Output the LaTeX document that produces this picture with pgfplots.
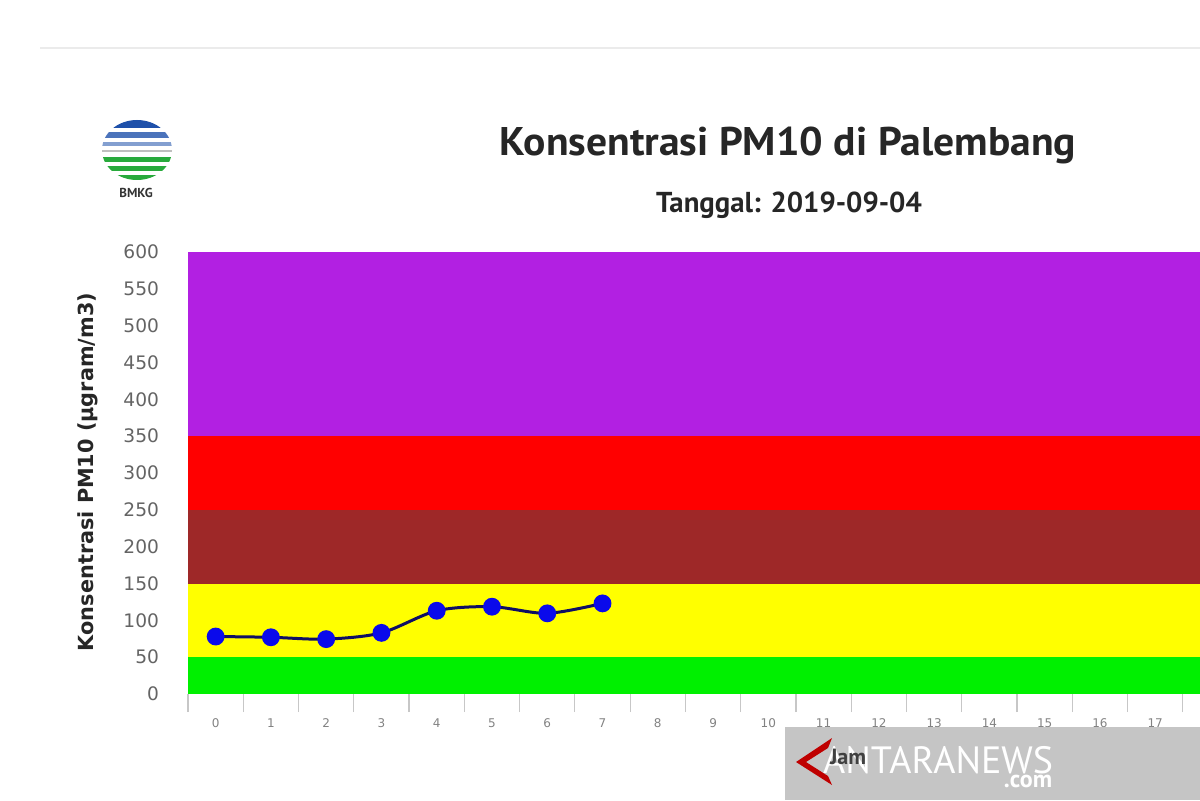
\documentclass[border=0pt]{standalone}
\usepackage{fontspec}
\setmainfont{PT Sans}
\newfontfamily\dejavu{DejaVu Sans}
\usepackage{pgfplots}
\pgfplotsset{compat=1.18}
\definecolor{bpurple}{RGB}{178,32,226}
\definecolor{bred}{RGB}{255,0,0}
\definecolor{bbrown}{RGB}{158,40,40}
\definecolor{byellow}{RGB}{255,255,0}
\definecolor{bgreen}{RGB}{0,240,0}
\definecolor{tickgray}{RGB}{100,100,100}
\definecolor{xtickgray}{RGB}{130,130,130}
\definecolor{linenavy}{RGB}{15,15,100}
\definecolor{markblue}{RGB}{10,10,235}
\definecolor{bmkgblue}{RGB}{30,80,170}
\definecolor{bmkggreen}{RGB}{40,170,60}
\begin{document}
\begin{tikzpicture}[x=0.5pt,y=0.5pt]
\path[use as bounding box] (0,0) rectangle (1200,800);
\draw[black!8, line width=1pt] (40,752) -- (1200,752);
% logo
\begin{scope}
\clip (137,650) ellipse (35 and 30);
\fill[bmkgblue] (100,672) rectangle (175,682);
\fill[bmkgblue!80] (100,662) rectangle (175,668);
\fill[bmkgblue!55] (100,654) rectangle (175,658);
\fill[gray!50] (100,648) rectangle (175,650);
\fill[bmkggreen] (100,638) rectangle (175,643);
\fill[bmkggreen] (100,629) rectangle (175,634);
\fill[bmkggreen] (100,620) rectangle (175,625);
\end{scope}
\node[font=\bfseries\fontsize{6.5}{7}\selectfont, text=black!80] at (136,607) {BMKG};
% titles
\node[font=\bfseries\fontsize{20}{22}\selectfont, text=black!85] at (788,655) {\scalebox{1.04}[1]{Konsentrasi PM10 di Palembang}};
\node[font=\bfseries\fontsize{14.4}{16}\selectfont, text=black!85] at (789,595) {Tanggal: 2019-09-04};
\node[rotate=90, font=\dejavu\bfseries\fontsize{10.4}{11}\selectfont, text=black!85] at (88,328) {Konsentrasi PM10 (µgram/m3)};
\begin{axis}[at={(94pt,53pt)}, anchor=south west, scale only axis,
  width=506pt, height=221pt,
  xmin=-0.5, xmax=17.81, ymin=0, ymax=600,
  axis line style={draw=none},
  ytick={0,50,...,600}, xtick={0,...,17},
  minor xtick={-0.5,0.5,...,17.5},
  tick pos=left,
  tick align=outside, major tick length=0pt, minor tick length=9pt,
  minor tick style={black!22, line width=0.6pt},
  /pgf/number format/assume math mode=true,
  /pgf/number format/1000 sep={},
  yticklabel style={font=\dejavu\fontsize{9.3}{10}\selectfont, text=tickgray, xshift=-11pt},
  xticklabel style={font=\dejavu\fontsize{6}{7}\selectfont, text=xtickgray, yshift=-9pt},
  clip=false]
\fill[bpurple] (axis cs:-0.5,350) rectangle (axis cs:17.81,600);
\fill[bred] (axis cs:-0.5,250) rectangle (axis cs:17.81,350);
\fill[bbrown] (axis cs:-0.5,150) rectangle (axis cs:17.81,250);
\fill[byellow] (axis cs:-0.5,50) rectangle (axis cs:17.81,150);
\fill[bgreen] (axis cs:-0.5,0) rectangle (axis cs:17.81,50);
\addplot[linenavy, line width=1.5pt, smooth, tension=0.5, mark=*, mark size=3.7pt,
  mark options={fill=markblue, draw=markblue}]
  coordinates {(0,78)(1,77)(2,74.5)(3,83)(4,113)(5,118.5)(6,109.5)(7,123)};
\end{axis}
% watermark and Jam label
\fill[gray!60, opacity=0.75] (785,0) rectangle (1200,73);
\fill[red!75!black] (832,62) -- (796,38) -- (832,15) -- (828,24) -- (806,38) -- (828,52) -- cycle;
\node[font=\fontsize{19}{22}\selectfont, text=white, anchor=west] at (816,40) {ANTARANEWS};
\node[font=\bfseries\fontsize{11}{12}\selectfont, text=black!75] at (848,43) {Jam};
\node[font=\bfseries\fontsize{12}{14}\selectfont, text=white] at (1028,19) {.com};
\end{tikzpicture}
\end{document}
